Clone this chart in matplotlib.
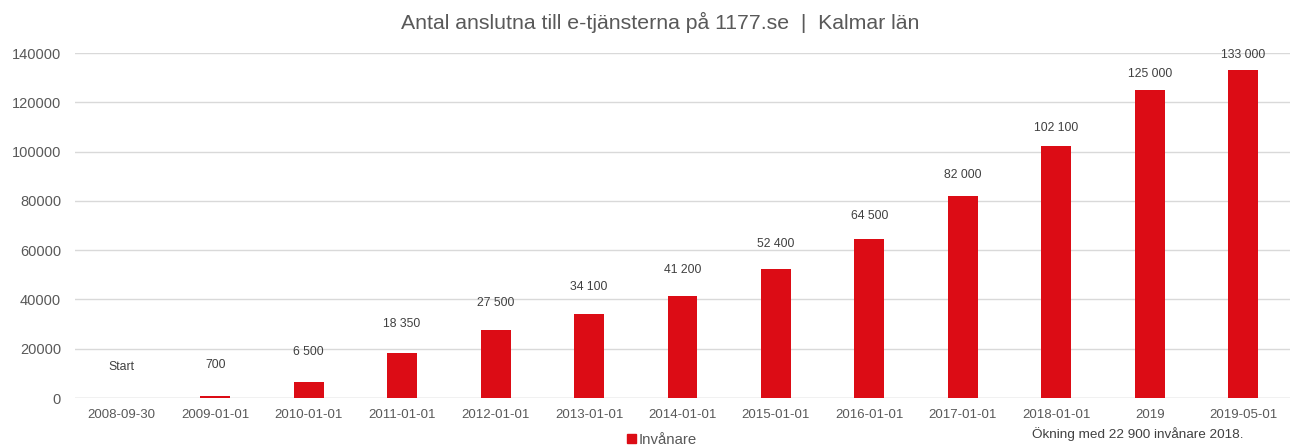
import matplotlib
matplotlib.use("Agg")
import matplotlib.pyplot as plt
from matplotlib.patches import Patch

plt.rcParams['font.family'] = ['Liberation Sans', 'DejaVu Sans']

categories = ["2008-09-30", "2009-01-01", "2010-01-01", "2011-01-01", "2012-01-01",
              "2013-01-01", "2014-01-01", "2015-01-01", "2016-01-01", "2017-01-01",
              "2018-01-01", "2019", "2019-05-01"]
values = [0, 700, 6500, 18350, 27500, 34100, 41200, 52400, 64500, 82000, 102100, 125000, 133000]
value_labels = ["Start", "700", "6 500", "18 350", "27 500", "34 100", "41 200", "52 400",
                "64 500", "82 000", "102 100", "125 000", "133 000"]
yticks = [0, 20000, 40000, 60000, 80000, 100000, 120000, 140000]

red = "#DC0C15"
txt = "#595959"

fig = plt.figure(figsize=(12.92, 4.48), dpi=100)
ax = fig.add_axes([75/1292, 1 - 398/448, (1290-75)/1292, (398-53)/448])

x = list(range(len(categories)))
ax.bar(x, values, width=0.32, color=red, zorder=3)
ax.set_xlim(-0.5, len(categories) - 0.5)
ax.set_ylim(0, 140000)
ax.set_yticks(yticks)
ax.set_yticklabels([str(v) for v in yticks], fontsize=10.5, color=txt)
ax.set_xticks(x)
ax.set_xticklabels(categories, fontsize=9.5, color=txt)
ax.tick_params(axis='both', length=0, pad=8)
ax.tick_params(axis='y', pad=10)
ax.grid(axis='y', color="#d9d9d9", linewidth=1, zorder=0)
for s in ax.spines.values():
    s.set_visible(False)
ax.axhline(0, color="#d9d9d9", linewidth=1, zorder=2)

# label placement: slightly compressed above the bars (as in the original)
for xi, v, lab in zip(x, values, value_labels):
    ly = 0.951 * v + 12600
    ax.text(xi, ly, lab, ha="center", va="center", fontsize=8.8, color="#404040",
            clip_on=False)

fig.text(660/1292, 1 - 22/448, "Antal anslutna till e-tjänsterna på 1177.se  |  Kalmar län",
         ha="center", va="center", fontsize=15.3, color=txt)

fig.legend(handles=[Patch(color=red)], labels=["Invånare"], loc="center",
           bbox_to_anchor=(662/1292, 1 - 440/448), frameon=False, fontsize=10.8,
           handlelength=0.55, handleheight=0.55, handletextpad=0.2, labelcolor=txt,
           borderpad=0)

fig.text(1032/1292, 1 - 434/448, "Ökning med 22 900 invånare 2018.", ha="left",
         va="center", fontsize=9.7, color="#404040")

fig.savefig("out.png", dpi=100)
